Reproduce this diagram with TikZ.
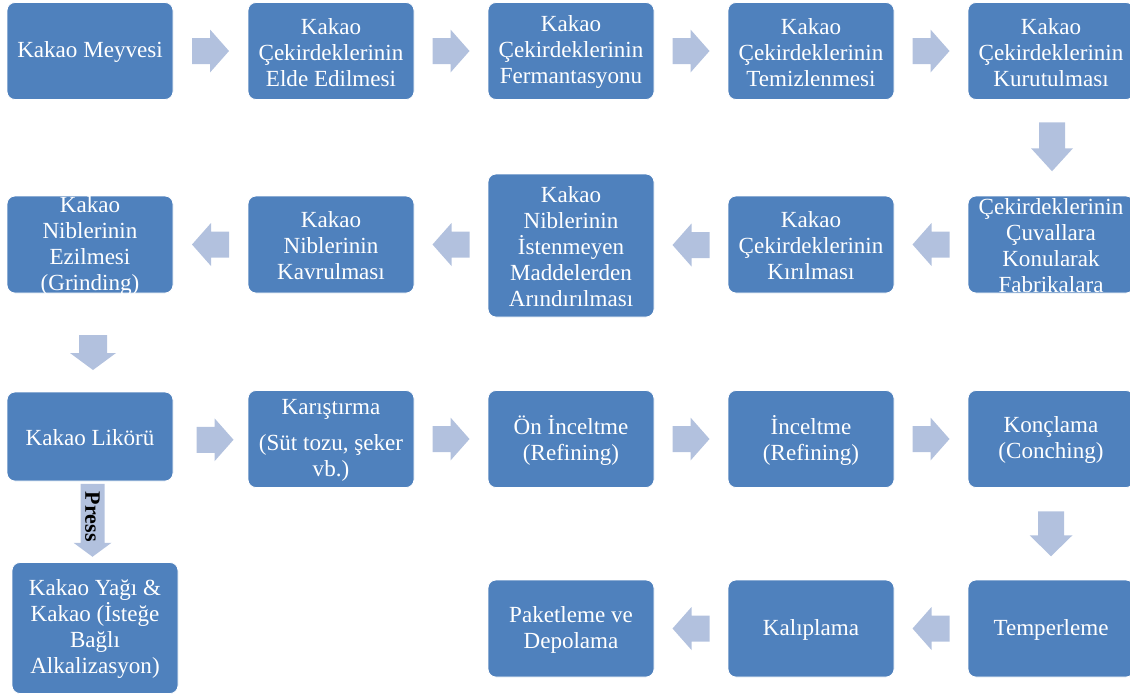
\documentclass[tikz,border=0pt]{standalone}
\usepackage{fontspec}
\setmainfont{Liberation Serif}
\usetikzlibrary{calc}
\definecolor{boxc}{HTML}{4F81BD}
\definecolor{arrowc}{HTML}{B2C1DE}
% #1 centre (calc expr), #2 rotation, #3 length, #4 shaft half-width, #5 head half-width, #6 head length
\newcommand\blockarr[6]{%
  \begin{scope}[shift={(#1)},rotate=#2]
    \fill[arrowc] ({-#3/2},{-#4}) -- ({#3/2-#6},{-#4}) -- ({#3/2-#6},{-#5}) -- ({#3/2},0)
      -- ({#3/2-#6},{#5}) -- ({#3/2-#6},{#4}) -- ({-#3/2},{#4}) -- cycle;
  \end{scope}}
\tikzset{
  box/.style={shape=rectangle, draw=white, line width=0.6pt, fill=boxc, rounded corners=6pt,
    minimum width=124.5pt, minimum height=72.75pt, inner sep=0pt},
  txt/.style={text=white, align=center, inner sep=0pt, yshift=-1pt, font=\fontsize{17.3}{19.5}\selectfont},
  presstxt/.style={text=black, inner sep=0pt, font=\bfseries\fontsize{16.5}{19}\selectfont}
}
\begin{document}
\begin{tikzpicture}[x=0.75pt,y=-0.75pt]
\useasboundingbox (0,0) rectangle (1130,694);
% ---- row 1
\node[box] (b1) at (90,51) {};
\node[box] (b2) at (331,51) {};
\node[box] (b3) at (571,51) {};
\node[box] (b4) at (811,51) {};
\node[box] (b5) at (1051,51) {};
% ---- row 2
\node[box] (b6) at (1051,244.5) {};
\node[box] (b7) at (811,244.5) {};
\node[box, minimum height=107.25pt] (b8) at (571,245.5) {};
\node[box] (b9) at (331,244.5) {};
\node[box] (b10) at (90,244.5) {};
% ---- row 3
\node[box, minimum height=66.75pt] (b11) at (90,436.5) {};
\node[box] (b12) at (331,439) {};
\node[box] (b13) at (571,439) {};
\node[box] (b14) at (811,439) {};
\node[box] (b15) at (1051,439) {};
% ---- row 4
\node[box] (b16) at (1051,628.5) {};
\node[box] (b17) at (811,628.5) {};
\node[box] (b18) at (571,628.5) {};
\node[box, minimum height=98.25pt] (yag) at (95,628) {};
% ---- texts
\node[txt] (t1) at (b1) {Kakao Meyvesi};
\node[txt] (t2) at (b2) {Kakao\\Çekirdeklerinin\\Elde Edilmesi};
\node[txt] (t3) at (b3) {Kakao\\Çekirdeklerinin\\Fermantasyonu};
\node[txt] (t4) at (b4) {Kakao\\Çekirdeklerinin\\Temizlenmesi};
\node[txt] (t5) at (b5) {Kakao\\Çekirdeklerinin\\Kurutulması};
\node[txt] (t6) at (b6) {Çekirdeklerinin\\Çuvallara\\Konularak\\Fabrikalara};
\node[txt] (t7) at (b7) {Kakao\\Çekirdeklerinin\\Kırılması};
\node[txt] (t8) at (b8) {Kakao\\Niblerinin\\İstenmeyen\\Maddelerden\\Arındırılması};
\node[txt] (t9) at (b9) {Kakao\\Niblerinin\\Kavrulması};
\node[txt] (t10) at (b10) {Kakao\\Niblerinin\\Ezilmesi\\(Grinding)};
\node[txt] (t11) at (b11) {Kakao Likörü};
\node[txt] (t12) at (b12) {Karıştırma\\[8pt](Süt tozu, şeker\\vb.)};
\node[txt] (t13) at (b13) {Ön İnceltme\\(Refining)};
\node[txt] (t14) at (b14) {İnceltme\\(Refining)};
\node[txt] (t15) at (b15) {Konçlama\\(Conching)};
\node[txt] (t16) at (b16) {Temperleme};
\node[txt] (t17) at (b17) {Kalıplama};
\node[txt] (t18) at (b18) {Paketleme ve\\Depolama};
\node[txt] (tyag) at (yag) {Kakao Yağı \&\\Kakao (İsteğe\\Bağlı\\Alkalizasyon)};
% ---- arrows row 1
\blockarr{$(b1.east)!0.5!(b2.west)$}{0}{37}{13}{21.5}{19}
\blockarr{$(b2.east)!0.5!(b3.west)$}{0}{37}{13}{21.5}{19}
\blockarr{$(b3.east)!0.5!(b4.west)$}{0}{37}{13}{21.5}{19}
\blockarr{$(b4.east)!0.5!(b5.west)$}{0}{37}{13}{21.5}{19}
\blockarr{$(b5.south)!0.5!(b6.north)+(1,-1)$}{-90}{49}{13}{21}{23}
% ---- arrows row 2
\blockarr{$(b6.west)!0.5!(b7.east)$}{180}{37}{13}{21.5}{19}
\blockarr{$(b7.west)!0.5!(b8.east)$}{180}{37}{13}{21.5}{19}
\blockarr{$(b8.west)!0.5!(b9.east)+(0,-0.5)$}{180}{37}{13}{21.5}{19}
\blockarr{$(b9.west)!0.5!(b10.east)$}{180}{37}{13}{21.5}{19}
\blockarr{$(b10.south)!0.5!(b11.north)+(3,10)$}{-90}{35}{14}{23}{17}
% ---- arrows row 3
\blockarr{$(b11.east)!0.5!(b12.west)+(4.5,2)$}{0}{37}{13}{21.5}{19}
\blockarr{$(b12.east)!0.5!(b13.west)$}{0}{37}{13}{21.5}{19}
\blockarr{$(b13.east)!0.5!(b14.west)$}{0}{37}{13}{21.5}{19}
\blockarr{$(b14.east)!0.5!(b15.west)$}{0}{37}{13}{21.5}{19}
\blockarr{$(b15.south)!0.5!(b16.north)$}{-90}{45}{13}{21.5}{21}
% ---- arrows row 4
\blockarr{$(b16.west)!0.5!(b17.east)$}{180}{37}{13}{21.5}{19}
\blockarr{$(b17.west)!0.5!(b18.east)$}{180}{37}{13}{21.5}{19}
% ---- press arrow
\blockarr{$(b11.south)!0.5!(yag.north)+(0,-1.5)$}{-90}{73}{12}{19}{14}
\node[presstxt, rotate=-90] (press) at ($(b11.south)!0.5!(yag.north)+(0,-5)$) {Press};
\end{tikzpicture}
\end{document}
